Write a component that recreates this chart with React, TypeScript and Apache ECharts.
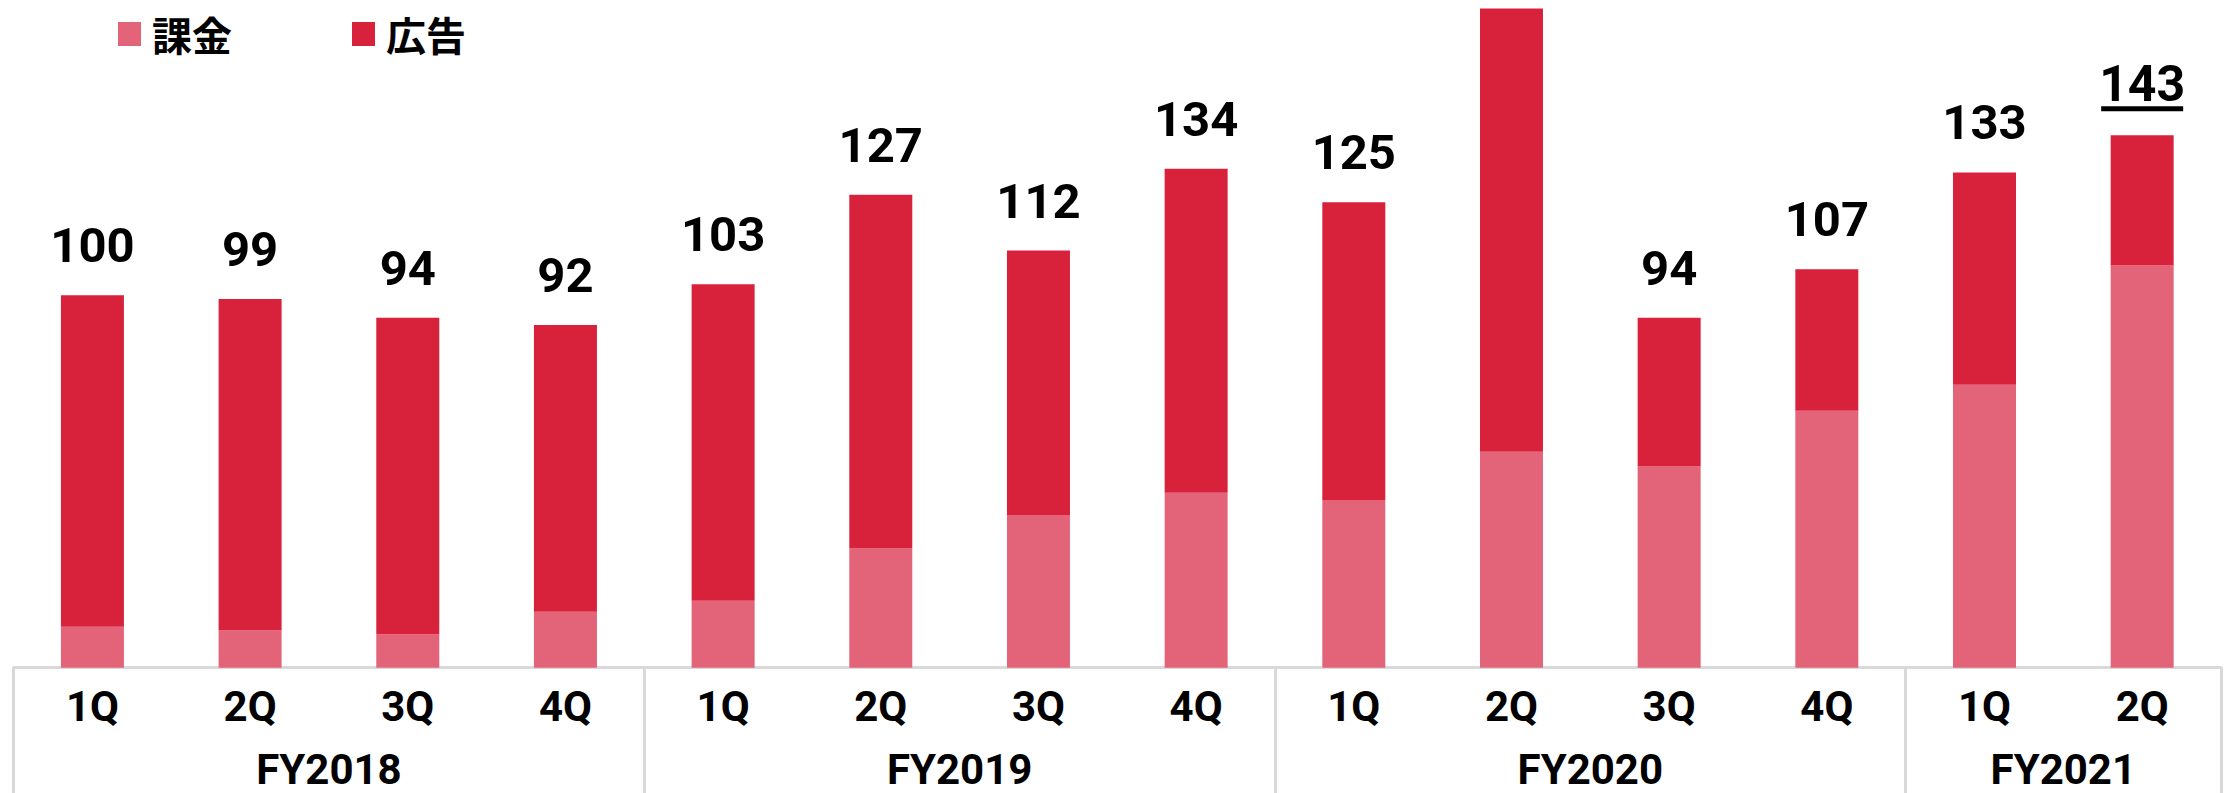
import React, { useEffect, useRef } from 'react';
import * as echarts from 'echarts';

// Quarter categories and fiscal-year groups
const quarters = ['1Q', '2Q', '3Q', '4Q', '1Q', '2Q', '3Q', '4Q', '1Q', '2Q', '3Q', '4Q', '1Q', '2Q'];
const fiscalYears = ['FY2018', 'FY2019', 'FY2020', 'FY2021'];
const fiscalYearQuarterCounts = [4, 4, 4, 2];

// Series values
const seriesNames = ['課金', '広告'];
const billing = [11, 10, 9, 15, 18, 32, 41, 47, 45, 58, 54, 69, 76, 108];
const advertising = [89, 89, 85, 77, 85, 95, 71, 87, 80, 119, 40, 38, 57, 35];
const totals = [100, 99, 94, 92, 103, 127, 112, 134, 125, 177, 94, 107, 133, 143];
const hiddenLabelIndex = 9;
const highlightedIndex = 13;

const NUM_FONT = 'Roboto, "Noto Sans", sans-serif';
const CJK_FONT = '"Noto Sans CJK JP", "Noto Sans", sans-serif';

export default function App() {
  const ref = useRef<HTMLDivElement>(null);

  useEffect(() => {
    if (!ref.current) return;
    const chart = echarts.init(ref.current, undefined, { renderer: 'svg' });

    // Group boundaries and centers derived from the quarter counts
    const groupStarts: number[] = [];
    const groupCenters: number[] = [];
    let acc = 0;
    fiscalYearQuarterCounts.forEach((c) => {
      groupStarts.push(acc);
      groupCenters.push(acc + (c - 1) / 2);
      acc += c;
    });

    const advData = advertising.map((v, i) => {
      if (i === hiddenLabelIndex) return { value: v, label: { show: false } };
      if (i === highlightedIndex)
        return {
          value: v,
          label: {
            distance: 24,
            formatter: (p: any) => `{v|${totals[p.dataIndex]}}\n{u|}`,
          },
        };
      return v;
    });

    const option: any = {
      animation: false,
      backgroundColor: '#ffffff',
      legend: {
        data: seriesNames,
        left: 113,
        top: 9,
        icon: 'rect',
        itemWidth: 23,
        itemHeight: 24,
        itemGap: 120,
        textStyle: {
          fontFamily: CJK_FONT,
          fontWeight: 'bold',
          fontSize: 40,
          color: '#000',
          padding: [0, 0, 0, 6],
        },
      },
      grid: { left: 13.6, right: -12.8, top: 0, bottom: 125.3, containLabel: false },
      xAxis: [
        {
          type: 'category',
          data: quarters,
          position: 'bottom',
          axisLine: { show: true, lineStyle: { color: '#d9d9d9', width: 3 } },
          axisTick: {
            show: true,
            alignWithLabel: false,
            interval: (index: number) => groupStarts.indexOf(index) >= 0,
            length: 130,
            lineStyle: { color: '#d9d9d9', width: 3 },
          },
          axisLabel: {
            interval: 0,
            margin: 18,
            fontFamily: NUM_FONT,
            fontWeight: 'bold',
            fontSize: 42,
            color: '#000',
          },
          splitLine: { show: false },
        },
        {
          type: 'value',
          position: 'bottom',
          min: -0.5,
          max: quarters.length - 0.5,
          interval: 0.5,
          axisLine: { show: false },
          axisTick: { show: false },
          splitLine: { show: false },
          axisLabel: {
            margin: 85,
            lineHeight: 34,
            fontFamily: NUM_FONT,
            fontWeight: 'bold',
            fontSize: 42,
            color: '#000',
            formatter: (v: number) => {
              const k = groupCenters.findIndex((c) => Math.abs(c - v) < 0.01);
              return k >= 0 ? fiscalYears[k] : '';
            },
          },
        },
      ],
      yAxis: {
        type: 'value',
        min: 0,
        max: 179.3,
        show: false,
        splitLine: { show: false },
      },
      series: [
        {
          name: seriesNames[0],
          type: 'bar',
          stack: 'total',
          barWidth: 63,
          data: billing,
          itemStyle: { color: '#E36478' },
        },
        {
          name: seriesNames[1],
          type: 'bar',
          stack: 'total',
          barWidth: 63,
          data: advData,
          itemStyle: { color: '#D8223C' },
          label: {
            show: true,
            position: 'top',
            distance: 25,
            fontFamily: NUM_FONT,
            fontWeight: 'bold',
            fontSize: 49,
            color: '#000',
            formatter: (p: any) => String(totals[p.dataIndex]),
            rich: {
              v: {
                fontFamily: NUM_FONT,
                fontWeight: 'bold',
                fontSize: 50,
                color: '#000',
                lineHeight: 44,
              },
              u: {
                width: 82,
                height: 5,
                lineHeight: 5,
                backgroundColor: '#000',
              },
            },
          },
        },
      ],
    };

    chart.setOption(option);
    return () => chart.dispose();
  }, []);

  return (
    <div
      ref={ref}
      style={{ position: 'fixed', left: 0, top: 0, width: 2224, height: 793, background: '#fff' }}
    />
  );
}
